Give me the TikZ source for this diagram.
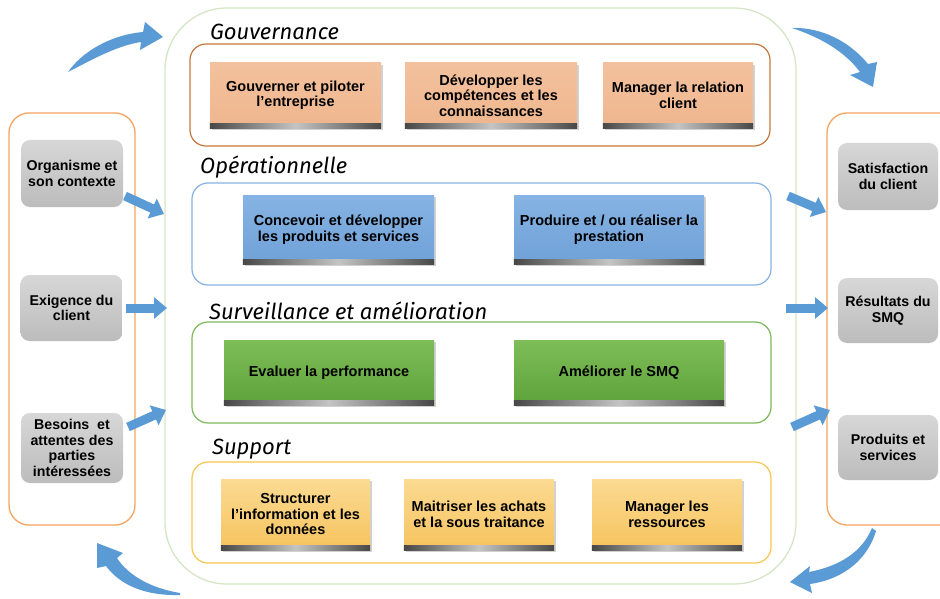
\documentclass[tikz,border=0pt]{standalone}
\usepackage{fontspec}
\setmainfont{Liberation Sans}
\newfontfamily\titlefont[Ligatures=NoCommon]{Fira Sans}
\usetikzlibrary{arrows.meta,shadows,calc}
\definecolor{arrowblue}{HTML}{5B9BD5}
\definecolor{outergreen}{HTML}{D5E6C6}
\definecolor{colorange}{HTML}{F5A560}
\definecolor{gouvline}{HTML}{C8773C}
\definecolor{opline}{HTML}{86B3E3}
\definecolor{survline}{HTML}{7DB95A}
\definecolor{suppline}{HTML}{F8C64E}
\definecolor{peachtop}{HTML}{F3C19E}
\definecolor{peachbot}{HTML}{EFB68D}
\definecolor{bluetop}{HTML}{86B3E3}
\definecolor{bluebot}{HTML}{6FA1D8}
\definecolor{greentop}{HTML}{7EBD57}
\definecolor{greenbot}{HTML}{5DA23A}
\definecolor{yeltop}{HTML}{FBDA92}
\definecolor{yelbot}{HTML}{F6C35E}
\definecolor{graytop}{HTML}{D7D7D7}
\definecolor{graybot}{HTML}{BCBCBC}
\definecolor{banddark}{HTML}{474747}
\definecolor{bandlight}{HTML}{C4C4C4}
\newcommand\procband[1]{\shade[left color=banddark, right color=banddark, middle color=bandlight] ($(#1.south west)+(0,-5)$) rectangle (#1.south east);}
\tikzset{
  proc/.style={rectangle, inner sep=2pt, align=center,
    font=\fontsize{14.5}{15.5}\selectfont\bfseries,
    drop shadow={shadow xshift=1.5pt, shadow yshift=-2pt, opacity=0.18, fill=black}},
  peachbox/.style={proc, top color=peachtop, bottom color=peachbot},
  bluebox/.style={proc, top color=bluetop, bottom color=bluebot},
  greenbox/.style={proc, top color=greentop, bottom color=greenbot},
  yelbox/.style={proc, top color=yeltop, bottom color=yelbot},
  graybox/.style={rectangle, rounded corners=9pt, top color=graytop, bottom color=graybot,
    align=center, minimum width=102pt, font=\fontsize{14.2}{15.5}\selectfont\bfseries},
  group/.style={rounded corners=16pt, line width=1.2pt},
  title/.style={anchor=west, inner sep=0pt, font=\titlefont\itshape\fontsize{22}{24}\selectfont},
  blockarrow/.style={draw=arrowblue, line width=9pt, -{Triangle[width=21pt,length=13pt]}},
  curvearrow/.style={fill=arrowblue}
}
\begin{document}
\begin{tikzpicture}[x=1pt,y=-1pt]
\useasboundingbox (0,0) rectangle (940,599);
\fill[white] (0,0) rectangle (940,599);

% outer process frame
\draw[draw=outergreen, line width=1.3pt, rounded corners=62pt] (165,8) rectangle (796,584);

% side columns
\draw[draw=colorange, rounded corners=20pt, line width=1.3pt] (9,113) rectangle (135,525);
\draw[draw=colorange, rounded corners=20pt, line width=1.3pt] (827,113) rectangle (960,525);

% group frames
\draw[group, draw=gouvline] (190,44) rectangle (770,146);
\draw[group, draw=opline] (192,183) rectangle (771,285);
\draw[group, draw=survline] (192,322) rectangle (771,423);
\draw[group, draw=suppline] (192,462) rectangle (771,563);

% titles
\node[title] (t1) at (210,32) {Gouvernance};
\node[title] (t2) at (200,167) {Opérationnelle};
\node[title] (t3) at (209,311) {Surveillance et amélioration};
\node[title] (t4) at (212,449) {Support};

% Gouvernance
\node[peachbox, minimum width=171pt, minimum height=65pt] (g1) at (295.5,95.5) {Gouverner et piloter\\l’entreprise};
\node[peachbox, minimum width=172pt, minimum height=65pt] (g2) at (491,95.5) {Développer les\\compétences et les\\connaissances};
\node[peachbox, minimum width=150pt, minimum height=65pt] (g3) at (678,95.5) {Manager la relation\\client};
\procband{g1}\procband{g2}\procband{g3}

% Operationnelle
\node[bluebox, minimum width=191pt, minimum height=69pt] (o1) at (338.5,229.5) {Concevoir et développer\\les produits et services};
\node[bluebox, minimum width=190pt, minimum height=69pt] (o2) at (609,229.5) {Produire et / ou réaliser la\\prestation};
\procband{o1}\procband{o2}

% Surveillance
\node[greenbox, minimum width=210pt, minimum height=65pt] (s1) at (329,372.5) {Evaluer la performance};
\node[greenbox, minimum width=210pt, minimum height=65pt] (s2) at (619,372.5) {Améliorer le SMQ};
\procband{s1}\procband{s2}

% Support
\node[yelbox, minimum width=149pt, minimum height=71pt] (p1) at (295.5,514.5) {Structurer\\l’information et les\\données};
\node[yelbox, minimum width=150pt, minimum height=71pt] (p2) at (479,514.5) {Maitriser les achats\\et la sous traitance};
\node[yelbox, minimum width=150pt, minimum height=71pt] (p3) at (667,514.5) {Manager les\\ressources};
\procband{p1}\procband{p2}\procband{p3}

% left inputs
\node[graybox, minimum height=67pt] (l1) at (72,173.5) {Organisme et\\son contexte};
\node[graybox, minimum height=66pt] (l2) at (71.5,308) {Exigence du\\client};
\node[graybox, minimum height=70pt] (l3) at (72,448) {Besoins\ \ et\\attentes des\\parties\\intéressées};

% right outputs
\node[graybox, minimum width=100pt, minimum height=67pt] (r1) at (888,176.5) {Satisfaction\\du client};
\node[graybox, minimum width=100pt, minimum height=65pt] (r2) at (888,310.5) {Résultats du\\SMQ};
\node[graybox, minimum width=100pt, minimum height=65pt] (r3) at (888,447.5) {Produits et\\services};

% connector ends
\coordinate (a1s) at (125,196);
\coordinate (a1e) at (164,214);
\coordinate (a2s) at (126,308);
\coordinate (a2e) at (167,308);
\coordinate (a3s) at (128,427);
\coordinate (a3e) at (166,410);
\coordinate (b1s) at (788,196);
\coordinate (b1e) at (826,212);
\coordinate (b2s) at (786,308);
\coordinate (b2e) at (828,308);
\coordinate (b3s) at (792,427);
\coordinate (b3e) at (830,410);
\draw[blockarrow] (a1s) -- (a1e);
\draw[blockarrow] (a2s) -- (a2e);
\draw[blockarrow] (a3s) -- (a3e);
\draw[blockarrow] (b1s) -- (b1e);
\draw[blockarrow] (b2s) -- (b2e);
\draw[blockarrow] (b3s) -- (b3e);

% curved cycle arrows
\fill[curvearrow] (68,72) .. controls (82,52) and (110,35) .. (143,32) -- (145,22) -- (163,37) -- (140,50) -- (141,42) .. controls (115,46) and (88,62) .. cycle;
\fill[curvearrow] (792,28) .. controls (822,27) and (850,42) .. (868,64) -- (877,62) -- (873,87) -- (850,75) -- (860,72) .. controls (845,52) and (822,38) .. cycle;
\fill[curvearrow] (180,593) .. controls (150,588) and (128,575) .. (117,558) -- (123,553) -- (97,543) -- (97,568) -- (106,566) .. controls (120,585) and (145,596) .. (180,595) -- cycle;
\fill[curvearrow] (872,528) .. controls (862,552) and (840,566) .. (809,572) -- (810,566) -- (790,582) -- (812,593) -- (810,584) .. controls (845,579) and (868,558) .. (876,531) -- cycle;
\end{tikzpicture}
\end{document}
